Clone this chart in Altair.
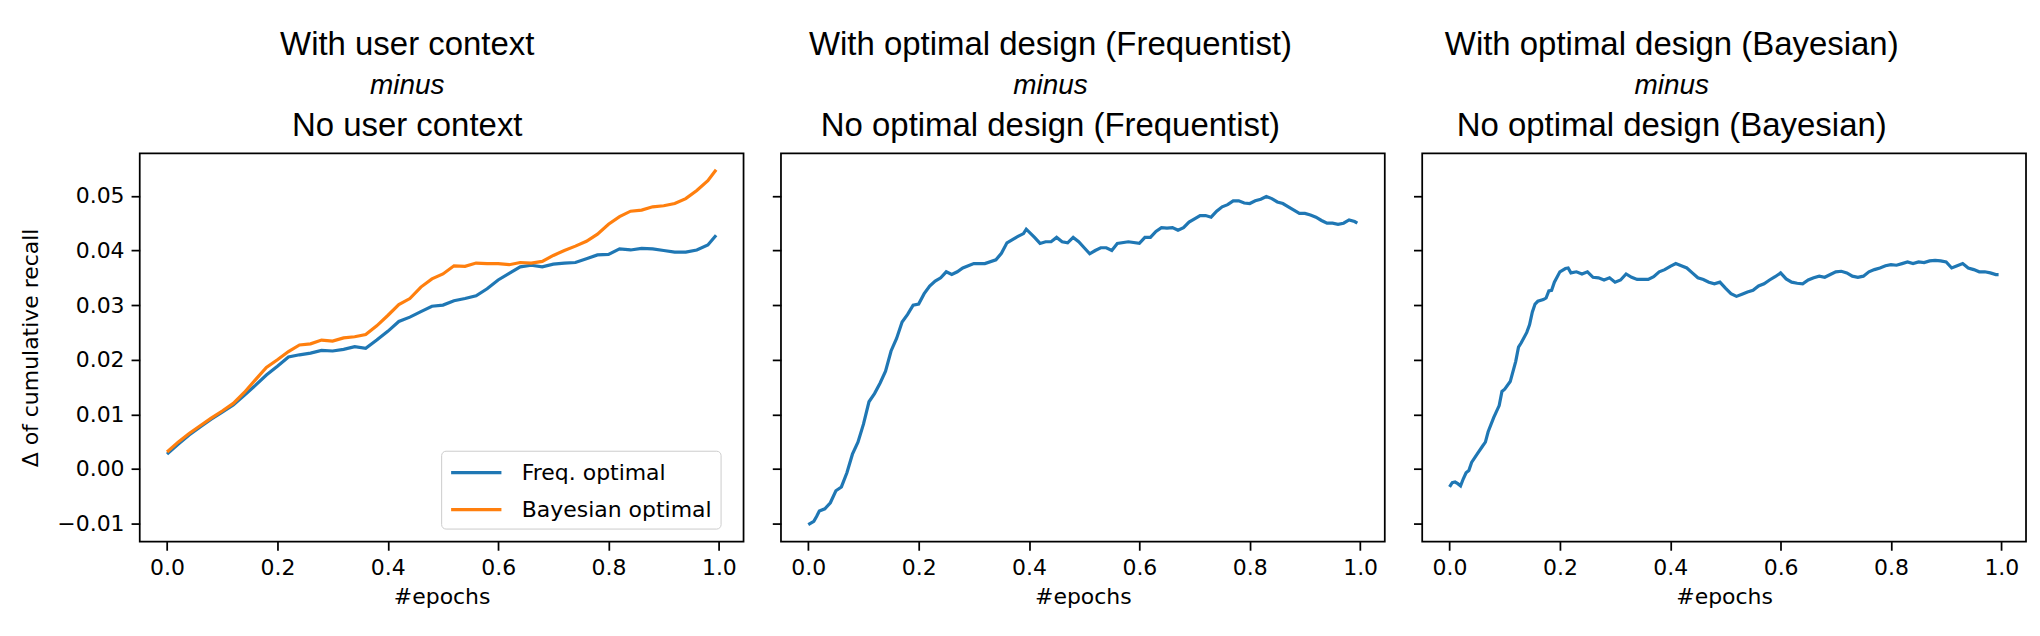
import altair as alt
import pandas as pd

# ---------------- data ----------------
series_names = ["Freq. optimal", "Bayesian optimal"]

x_p1 = [0.0, 0.02, 0.04, 0.06, 0.08, 0.10, 0.12, 0.14, 0.16, 0.18, 0.20, 0.22, 0.24,
        0.26, 0.28, 0.30, 0.32, 0.34, 0.36, 0.38, 0.40, 0.42, 0.44, 0.46, 0.48, 0.50,
        0.52, 0.54, 0.56, 0.58, 0.60, 0.62, 0.64, 0.66, 0.68, 0.70, 0.72, 0.74, 0.76,
        0.78, 0.80, 0.82, 0.84, 0.86, 0.88, 0.90, 0.92, 0.94, 0.96, 0.98, 0.995]
freq_p1 = [0.0027, 0.0045, 0.0062, 0.0077, 0.0091, 0.0104, 0.0117, 0.0135, 0.0153, 0.0172,
           0.0188, 0.0205, 0.0209, 0.0212, 0.0217, 0.0216, 0.0219, 0.0224, 0.0221, 0.0236,
           0.0252, 0.0270, 0.0278, 0.0288, 0.0298, 0.0300, 0.0308, 0.0312, 0.0317, 0.0330,
           0.0346, 0.0358, 0.0370, 0.0373, 0.0370, 0.0375, 0.0377, 0.0378, 0.0385, 0.0392,
           0.0393, 0.0403, 0.0401, 0.0404, 0.0403, 0.0400, 0.0397, 0.0397, 0.0401, 0.0410,
           0.0428]
bayes_p1 = [0.0031, 0.0049, 0.0065, 0.0079, 0.0093, 0.0106, 0.0120, 0.0140, 0.0163, 0.0186,
            0.0200, 0.0215, 0.0227, 0.0229, 0.0236, 0.0234, 0.0240, 0.0242, 0.0246, 0.0262,
            0.0281, 0.0301, 0.0312, 0.0333, 0.0348, 0.0357, 0.0372, 0.0371, 0.0377, 0.0376,
            0.0376, 0.0374, 0.0378, 0.0377, 0.0380, 0.0391, 0.0400, 0.0408, 0.0417, 0.0430,
            0.0448, 0.0462, 0.0472, 0.0474, 0.0480, 0.0482, 0.0486, 0.0495, 0.0510, 0.0528,
            0.0548]

x_p2 = [0.0, 0.01, 0.015, 0.02, 0.03, 0.04, 0.05, 0.06, 0.07, 0.08, 0.09, 0.10, 0.11, 0.12,
        0.13, 0.14, 0.15, 0.16, 0.17, 0.18, 0.19, 0.20, 0.21, 0.22, 0.23, 0.24, 0.25, 0.26,
        0.27, 0.28, 0.29, 0.30, 0.32, 0.34, 0.35, 0.36, 0.37, 0.38, 0.39, 0.395, 0.41, 0.42,
        0.43, 0.44, 0.45, 0.46, 0.47, 0.48, 0.49, 0.50, 0.51, 0.52, 0.53, 0.54, 0.55, 0.56,
        0.58, 0.60, 0.61, 0.62, 0.63, 0.64, 0.65, 0.66, 0.67, 0.68, 0.69, 0.70, 0.71, 0.72,
        0.73, 0.74, 0.75, 0.76, 0.77, 0.78, 0.79, 0.80, 0.81, 0.82, 0.83, 0.84, 0.85, 0.86,
        0.87, 0.88, 0.89, 0.90, 0.91, 0.92, 0.93, 0.94, 0.95, 0.96, 0.97, 0.98, 0.99, 0.995]
y_p2 = [-0.0102, -0.0096, -0.0087, -0.0077, -0.0073, -0.0062, -0.0040, -0.0033, -0.0007, 0.0027,
        0.0049, 0.0082, 0.0123, 0.0138, 0.0157, 0.0179, 0.0216, 0.0239, 0.0269, 0.0283,
        0.0300, 0.0302, 0.0321, 0.0335, 0.0344, 0.0350, 0.0361, 0.0356, 0.0361, 0.0368,
        0.0372, 0.0376, 0.0376, 0.0383, 0.0395, 0.0414, 0.0420, 0.0426, 0.0431, 0.0439,
        0.0424, 0.0413, 0.0416, 0.0416, 0.0424, 0.0416, 0.0414, 0.0424, 0.0416, 0.0405,
        0.0394, 0.0400, 0.0405, 0.0405, 0.0400, 0.0413, 0.0416, 0.0413, 0.0424, 0.0424,
        0.0435, 0.0442, 0.0441, 0.0442, 0.0437, 0.0442, 0.0452, 0.0458, 0.0464, 0.0464,
        0.0461, 0.0472, 0.0480, 0.0484, 0.0491, 0.0491, 0.0487, 0.0486, 0.0491, 0.0494,
        0.0499, 0.0495, 0.0489, 0.0486, 0.0480, 0.0474, 0.0468, 0.0468, 0.0465, 0.0461,
        0.0455, 0.0450, 0.0450, 0.0448, 0.0450, 0.0456, 0.0453, 0.0450]

x_p3 = [0.0, 0.005, 0.01, 0.015, 0.02, 0.025, 0.03, 0.035, 0.04, 0.05, 0.06, 0.065, 0.07,
        0.08, 0.09, 0.095, 0.10, 0.11, 0.12, 0.125, 0.13, 0.14, 0.145, 0.15, 0.155, 0.16,
        0.17, 0.175, 0.18, 0.185, 0.19, 0.20, 0.21, 0.215, 0.22, 0.23, 0.24, 0.25, 0.26,
        0.27, 0.28, 0.29, 0.30, 0.31, 0.32, 0.33, 0.34, 0.35, 0.36, 0.37, 0.38, 0.39, 0.40,
        0.41, 0.42, 0.43, 0.44, 0.45, 0.46, 0.47, 0.48, 0.49, 0.50, 0.51, 0.52, 0.53, 0.54,
        0.55, 0.56, 0.57, 0.58, 0.59, 0.60, 0.61, 0.62, 0.63, 0.64, 0.65, 0.66, 0.67, 0.68,
        0.69, 0.70, 0.71, 0.72, 0.73, 0.74, 0.75, 0.76, 0.77, 0.78, 0.79, 0.80, 0.81, 0.82,
        0.83, 0.84, 0.85, 0.86, 0.87, 0.88, 0.89, 0.90, 0.91, 0.92, 0.93, 0.94, 0.95, 0.96,
        0.97, 0.98, 0.99, 0.995]
y_p3 = [-0.0033, -0.0025, -0.0024, -0.0027, -0.0031, -0.0018, -0.0007, -0.0003, 0.0012, 0.0027,
        0.0042, 0.0049, 0.0068, 0.0094, 0.0116, 0.0142, 0.0146, 0.0160, 0.0197, 0.0223,
        0.0231, 0.0250, 0.0264, 0.0287, 0.0302, 0.0307, 0.0310, 0.0313, 0.0326, 0.0327,
        0.0342, 0.0361, 0.0367, 0.0368, 0.0359, 0.0361, 0.0357, 0.0361, 0.0351, 0.0350,
        0.0346, 0.0350, 0.0342, 0.0346, 0.0357, 0.0351, 0.0347, 0.0347, 0.0347, 0.0352,
        0.0361, 0.0365, 0.0371, 0.0376, 0.0372, 0.0368, 0.0359, 0.0350, 0.0347, 0.0342,
        0.0339, 0.0342, 0.0331, 0.0321, 0.0316, 0.0320, 0.0324, 0.0327, 0.0335, 0.0339,
        0.0346, 0.0352, 0.0359, 0.0348, 0.0342, 0.0340, 0.0339, 0.0346, 0.0350, 0.0353,
        0.0351, 0.0356, 0.0361, 0.0362, 0.0359, 0.0353, 0.0351, 0.0353, 0.0361, 0.0365,
        0.0368, 0.0372, 0.0374, 0.0373, 0.0376, 0.0379, 0.0376, 0.0379, 0.0378, 0.0381,
        0.0382, 0.0381, 0.0379, 0.0368, 0.0372, 0.0376, 0.0368, 0.0365, 0.0361, 0.0361,
        0.0359, 0.0356, 0.0356]

titles_top = ["With user context", "With optimal design (Frequentist)",
              "With optimal design (Bayesian)"]
titles_mid = ["minus", "minus", "minus"]
titles_bot = ["No user context", "No optimal design (Frequentist)",
              "No optimal design (Bayesian)"]

x_ticks = [0.0, 0.2, 0.4, 0.6, 0.8, 1.0]
y_ticks = [-0.01, 0.0, 0.01, 0.02, 0.03, 0.04, 0.05]
x_label = "#epochs"
y_label = "\u0394 of cumulative recall"

# ---------------- styling ----------------
BLUE = "#1f77b4"
ORANGE = "#ff7f0e"
W, H = 605, 389
XDOM = [-0.0495, 1.0447]
YDOM = [-0.0133, 0.0578]
LW = 3.2
TITLE_CX = [268, 270, 250]

df1 = pd.DataFrame({
    "x": x_p1 + x_p1,
    "y": freq_p1 + bayes_p1,
    "series": [series_names[0]] * len(x_p1) + [series_names[1]] * len(x_p1),
})
df2 = pd.DataFrame({"x": x_p2, "y": y_p2})
df3 = pd.DataFrame({"x": x_p3, "y": y_p3})


def x_enc():
    return alt.X("x:Q", scale=alt.Scale(domain=XDOM, nice=False, zero=False),
                 axis=alt.Axis(values=x_ticks, format=".1f", title=x_label))


def y_enc(show):
    if show:
        ax = alt.Axis(values=y_ticks, format=".2f", title=y_label, titlePadding=14)
    else:
        ax = alt.Axis(values=y_ticks, labels=False, title=None)
    return alt.Y("y:Q", scale=alt.Scale(domain=YDOM, nice=False, zero=False), axis=ax)


def title_layers(i):
    cx = TITLE_CX[i]
    t1 = alt.Chart(pd.DataFrame({"t": [titles_top[i]]})).mark_text(
        font="Liberation Sans", fontSize=33, align="center", baseline="alphabetic",
        color="black").encode(text="t:N", x=alt.value(cx), y=alt.value(-98.3))
    t2 = alt.Chart(pd.DataFrame({"t": [titles_mid[i]]})).mark_text(
        font="Liberation Sans", fontSize=28, fontStyle="italic", align="center",
        baseline="alphabetic", color="black").encode(
        text="t:N", x=alt.value(cx), y=alt.value(-59.3))
    t3 = alt.Chart(pd.DataFrame({"t": [titles_bot[i]]})).mark_text(
        font="Liberation Sans", fontSize=33, align="center", baseline="alphabetic",
        color="black").encode(text="t:N", x=alt.value(cx), y=alt.value(-17.7))
    return [t1, t2, t3]


line1 = alt.Chart(df1).mark_line(strokeWidth=LW).encode(
    x=x_enc(), y=y_enc(True),
    color=alt.Color("series:N",
                    scale=alt.Scale(domain=series_names, range=[BLUE, ORANGE]),
                    legend=alt.Legend(
                        title=None, orient="none", legendX=302, legendY=298,
                        symbolType="M-1,0L3.2,0", symbolSize=576, symbolStrokeWidth=3.3,
                        labelOffset=44.8, rowPadding=12, padding=8,
                        strokeColor="#cccccc", fillColor="white", cornerRadius=4.4,
                        labelFont="DejaVu Sans", labelFontSize=22, labelColor="black",
                        labelLimit=400)),
    order="x:Q",
)
p1 = alt.layer(line1, *title_layers(0)).properties(width=W, height=H)

line2 = alt.Chart(df2).mark_line(strokeWidth=LW, color=BLUE).encode(
    x=x_enc(), y=y_enc(False), order="x:Q")
p2 = alt.layer(line2, *title_layers(1)).properties(width=W, height=H)

line3 = alt.Chart(df3).mark_line(strokeWidth=LW, color=BLUE).encode(
    x=x_enc(), y=y_enc(False), order="x:Q")
p3 = alt.layer(line3, *title_layers(2)).properties(width=W, height=H)

chart = alt.hconcat(p1, p2, p3, spacing=25.5).properties(
    padding={"left": 11, "top": 19, "right": 5, "bottom": 5}
).configure_view(
    stroke="black", strokeWidth=1.75
).configure_axis(
    labelFont="DejaVu Sans", labelFontSize=22, labelColor="black",
    titleFont="DejaVu Sans", titleFontSize=22, titleFontWeight="normal", titleColor="black",
    tickSize=8.7, tickWidth=1.75, tickColor="black", domain=False, grid=False,
    labelPadding=7,
).configure_axisX(titlePadding=8)

chart.save("out.html", embed_options={"renderer": "svg", "actions": False})
